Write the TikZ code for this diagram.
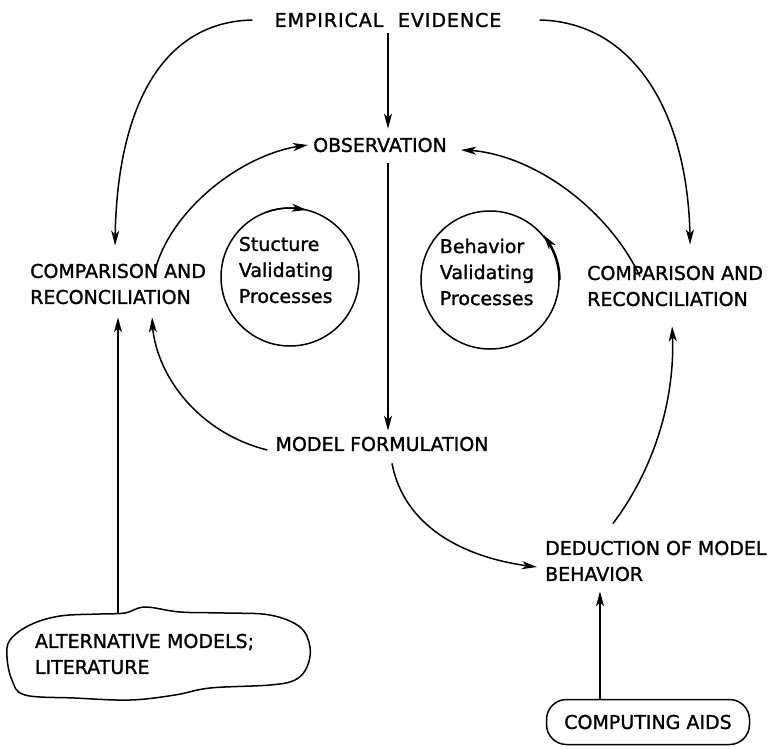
\documentclass[tikz,border=0pt]{standalone}
\usepackage{fontspec}
\setmainfont{DejaVu Sans}
\newfontfamily\letterfont[FakeBold=1.3]{DejaVu Sans}
\usetikzlibrary{arrows.meta,bending}

\begin{document}
\begin{tikzpicture}[x=1pt,y=-1pt,
  lbl/.style={font=\letterfont\fontsize{19}{26}\selectfont,inner sep=0pt,align=left},
  arr/.style={line width=1.5pt,-{Stealth[length=15pt,width=8pt,inset=4pt]}},
  proc/.style={draw,line width=1.5pt,circle,minimum size=138pt,inner sep=0pt}]
  \useasboundingbox (0,0) rectangle (784,748); % 画像全体の大きさ

  \node[lbl] (evid) at (388,20) {\addfontfeature{LetterSpace=5}EMPIRICAL\hspace{0.4em} EVIDENCE}; % 一番上の見出し
  \node[lbl] (obs) at (380,145) {OBSERVATION}; % 観察
  \node[lbl,anchor=west] (compL) at (30,284) {COMPARISON AND\\RECONCILIATION}; % 左の比較
  \node[lbl,anchor=west] (compR) at (587,286) {COMPARISON AND\\RECONCILIATION}; % 右の比較
  \node[lbl] (formul) at (382,444) {MODEL FORMULATION}; % モデル作成
  \node[lbl,anchor=west] (deduct) at (545,561) {DEDUCTION OF MODEL\\BEHAVIOR}; % モデル挙動の導出
  \node[lbl,text width=250pt,minimum width=300pt,minimum height=92pt] (altmod) at (160,654) {ALTERNATIVE MODELS;\\LITERATURE}; % 雲の中の文字
  \node[lbl,draw,line width=1.5pt,rounded corners=20pt,minimum width=203pt,minimum height=45pt] (aids) at (648,722) {COMPUTING AIDS}; % 計算の道具

  \node[proc] (strucC) at (290,277) {}; % 左の円
  \node[proc] (behavC) at (490,280) {}; % 右の円
  \node[lbl] (strucT) at (286,270) {Stucture\\Validating\\Processes}; % 左の円の文字
  \node[lbl] (behavT) at (487,272) {Behavior\\Validating\\Processes}; % 右の円の文字

  % 雲の形
  \draw[line width=1.5pt] plot[smooth cycle,tension=0.6] coordinates {(10,640) (30,625) (60,616) (100,614) (125,613) (145,607) (180,612) (225,613) (270,615) (300,627) (310,647) (307,667) (295,680) (270,685) (210,688) (175,695) (130,700) (75,698) (25,695) (12,680) (7,657)};

  \draw[arr] ([xshift=-22pt]evid.west) .. controls +(-95,2) and +(0,-130) .. ([shift={(-3pt,18pt)}]compL.north); % 左の大きな弧
  \draw[arr] ([xshift=38pt]evid.east) .. controls +(95,2) and +(0,-130) .. ([shift={(15pt,21pt)}]compR.north); % 右の大きな弧
  \draw[arr] ([yshift=-6pt]evid.south) -- ([yshift=9pt]evid.south |- obs.north); % 上から観察へ
  \draw[arr] ([yshift=-11pt]evid.south |- obs.south) -- ([yshift=6pt]evid.south |- formul.north); % 観察からモデル作成へ
  \draw[arr] ([shift={(36pt,-11pt)}]compL.north) .. controls +(13,-62) and +(-66,6) .. ([xshift=-5pt]obs.west); % 左の比較から観察へ
  \draw[arr] ([shift={(-35pt,-11pt)}]compR.north) .. controls +(-33,-70) and +(67,0) .. ([shift={(14pt,-5pt)}]obs.east); % 右の比較から観察へ
  \draw[arr] ([shift={(-8pt,-6pt)}]formul.west) .. controls +(-72,-18) and +(0,53) .. ([shift={(34pt,-13pt)}]compL.south); % モデル作成から左の比較へ
  \draw[arr] ([shift={(10pt,-12pt)}]formul.south) .. controls +(13,67) and +(-67,-7) .. ([shift={(-8pt,-6pt)}]deduct.west); % モデル作成から導出へ
  \draw[arr] ([shift={(-43pt,17pt)}]deduct.north) .. controls +(40,-53) and +(5,73) .. ([shift={(-3pt,-20pt)}]compR.south); % 導出から右の比較へ
  \coordinate (altTop) at ([shift={(-42pt,-5pt)}]altmod.north); % 雲の上端
  \draw[arr] (altTop) -- ([yshift=-13pt]altTop |- compL.south); % 雲から左の比較へ
  \coordinate (aidsTop) at ([xshift=-48pt]aids.north); % 箱の上端
  \draw[arr] (aidsTop) -- ([yshift=-10pt]aidsTop |- deduct.south); % 計算の道具から導出へ
  \draw[arr] (strucC.center) ++(-110:69) arc (-110:-76:69); % 左の円の矢印
  \draw[arr] (behavC.center) ++(0:70) arc (0:-40:70); % 右の円の矢印
\end{tikzpicture}
\end{document}
